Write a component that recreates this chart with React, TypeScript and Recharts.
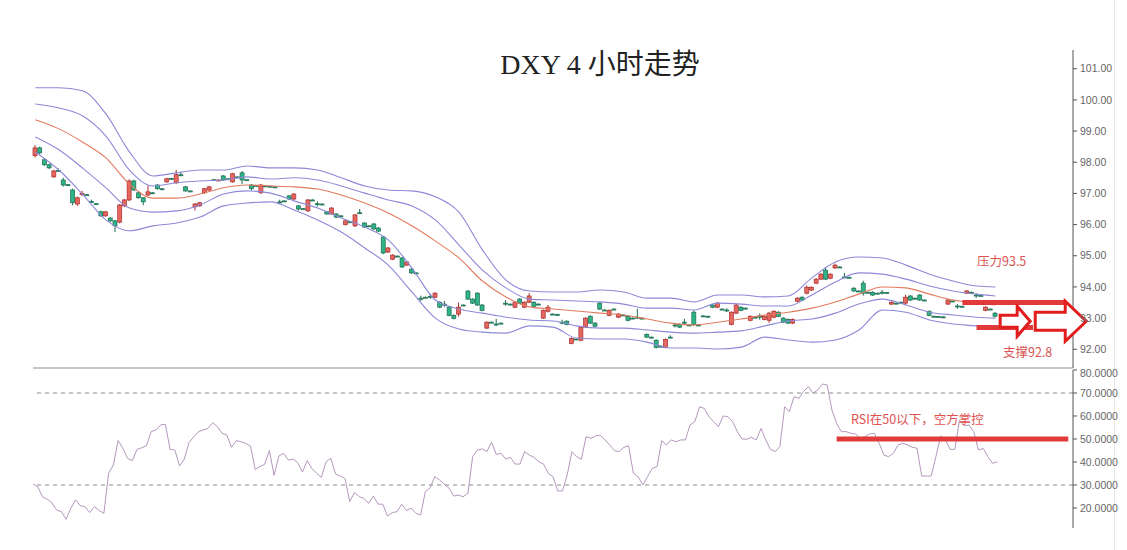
import React from "react";
import { ComposedChart, LineChart, Line, Bar, XAxis, YAxis, ReferenceLine, ReferenceDot } from "recharts";

// [open, high, low, close] for every 4h candle
const candles: [number, number, number, number][] = [
  [98.21, 98.55, 98.15, 98.46], [98.46, 98.5, 98.25, 98.3], [98.08, 98.12, 97.88, 97.92], [97.92, 97.95, 97.78, 97.82],
  [97.53, 97.76, 97.5, 97.72], [97.74, 97.8, 97.7, 97.72], [97.43, 97.5, 97.22, 97.27], [97.28, 97.3, 97.24, 97.26],
  [97.11, 97.15, 96.62, 96.7], [96.66, 96.9, 96.6, 96.86], [96.99, 97.08, 96.92, 97.0], [96.96, 96.98, 96.93, 96.95],
  [96.74, 96.8, 96.7, 96.73], [96.67, 96.69, 96.64, 96.66], [96.41, 96.45, 96.25, 96.28], [96.28, 96.44, 96.25, 96.41],
  [96.21, 96.24, 96.08, 96.12], [96.12, 96.15, 95.76, 95.96], [96.08, 96.66, 96.04, 96.63], [96.6, 96.82, 96.56, 96.79],
  [96.79, 97.45, 96.75, 97.4], [97.4, 97.44, 97.08, 97.11], [97.02, 97.05, 96.83, 96.86], [96.86, 96.88, 96.62, 96.73],
  [96.95, 97.25, 96.92, 97.05], [97.02, 97.04, 96.99, 97.01], [97.27, 97.3, 97.12, 97.15], [97.15, 97.16, 97.1, 97.14],
  [97.37, 97.5, 97.34, 97.47], [97.48, 97.5, 97.45, 97.47], [97.34, 97.75, 97.31, 97.6], [97.6, 97.7, 97.55, 97.59],
  [97.21, 97.24, 97.05, 97.08], [97.08, 97.09, 97.05, 97.07], [96.57, 96.69, 96.45, 96.66], [96.6, 96.73, 96.57, 96.7],
  [97.02, 97.18, 96.99, 97.15], [97.11, 97.24, 97.08, 97.21], [97.44, 97.46, 97.41, 97.43], [97.42, 97.45, 97.4, 97.43],
  [97.56, 97.59, 97.4, 97.43], [97.47, 97.48, 97.44, 97.46], [97.37, 97.66, 97.34, 97.63], [97.53, 97.55, 97.5, 97.52],
  [97.66, 97.72, 97.3, 97.43], [97.44, 97.45, 97.41, 97.43], [97.27, 97.3, 97.1, 97.15], [97.25, 97.27, 97.22, 97.24],
  [97.02, 97.3, 96.98, 97.27], [97.24, 97.26, 97.21, 97.23], [97.23, 97.25, 97.2, 97.22], [97.21, 97.23, 97.18, 97.2],
  [96.73, 96.8, 96.66, 96.72], [96.76, 96.78, 96.73, 96.75], [96.92, 96.95, 96.79, 96.82], [96.82, 97.01, 96.79, 96.98],
  [96.6, 96.63, 96.45, 96.5], [96.51, 96.53, 96.48, 96.5], [96.44, 96.82, 96.4, 96.79], [96.79, 96.81, 96.76, 96.78],
  [96.67, 96.75, 96.58, 96.66], [96.66, 96.68, 96.63, 96.65], [96.41, 96.44, 96.32, 96.34], [96.34, 96.56, 96.31, 96.53],
  [96.34, 96.37, 96.21, 96.24], [96.28, 96.3, 96.25, 96.27], [96.0, 96.15, 95.97, 96.12], [96.09, 96.11, 96.06, 96.08],
  [95.96, 96.34, 95.92, 96.31], [96.38, 96.5, 96.34, 96.37], [96.05, 96.08, 95.89, 95.92], [95.96, 95.98, 95.93, 95.95],
  [96.02, 96.05, 95.83, 95.86], [95.89, 95.92, 95.76, 95.79], [95.6, 95.63, 95.05, 95.09], [95.12, 95.28, 95.09, 95.25],
  [94.89, 95.05, 94.86, 95.02], [94.99, 95.01, 94.96, 94.98], [94.93, 94.96, 94.61, 94.64], [94.7, 94.83, 94.67, 94.8],
  [94.57, 94.6, 94.42, 94.45], [94.45, 94.47, 94.42, 94.44], [93.64, 93.72, 93.55, 93.63], [93.67, 93.69, 93.64, 93.66],
  [93.7, 93.78, 93.62, 93.69], [93.67, 93.83, 93.64, 93.8], [93.51, 93.54, 93.32, 93.35], [93.45, 93.55, 93.35, 93.44],
  [93.35, 93.38, 93.06, 93.09], [93.09, 93.12, 92.96, 92.99], [93.13, 93.5, 93.05, 93.35], [93.42, 93.44, 93.39, 93.41],
  [93.87, 93.9, 93.58, 93.61], [93.61, 93.64, 93.45, 93.48], [93.8, 93.83, 93.39, 93.42], [93.42, 93.45, 93.22, 93.25],
  [92.68, 92.9, 92.65, 92.87], [92.87, 92.89, 92.84, 92.86], [92.81, 92.98, 92.75, 92.8], [92.84, 92.86, 92.81, 92.83],
  [93.48, 93.58, 93.4, 93.47], [93.45, 93.47, 93.42, 93.44], [93.35, 93.54, 93.32, 93.51], [93.61, 93.64, 93.45, 93.48],
  [93.35, 93.54, 93.32, 93.51], [93.51, 93.8, 93.48, 93.71], [93.51, 93.54, 93.35, 93.38], [93.45, 93.47, 93.42, 93.44],
  [93.0, 93.28, 92.97, 93.25], [93.22, 93.42, 93.18, 93.35], [93.13, 93.15, 93.1, 93.12], [93.12, 93.14, 93.09, 93.11],
  [92.87, 92.95, 92.8, 92.86], [92.9, 92.93, 92.77, 92.8], [92.19, 92.38, 92.16, 92.35], [92.33, 92.35, 92.3, 92.32],
  [92.29, 92.74, 92.26, 92.71], [92.71, 93.03, 92.68, 93.0], [93.06, 93.09, 92.81, 92.84], [92.84, 92.87, 92.71, 92.74],
  [93.48, 93.51, 93.26, 93.29], [93.26, 93.28, 93.23, 93.25], [93.09, 93.28, 93.06, 93.25], [93.29, 93.31, 93.26, 93.28],
  [93.03, 93.16, 93.0, 93.13], [93.1, 93.12, 93.07, 93.09], [93.06, 93.09, 92.9, 92.93], [93.0, 93.02, 92.97, 92.99],
  [93.03, 93.3, 92.98, 93.02], [93.0, 93.02, 92.97, 92.99], [92.48, 92.51, 92.36, 92.39], [92.39, 92.41, 92.36, 92.38],
  [92.29, 92.32, 92.03, 92.06], [92.1, 92.12, 92.07, 92.09], [92.06, 92.35, 92.03, 92.32], [92.39, 92.45, 92.36, 92.38],
  [92.78, 92.85, 92.7, 92.77], [92.8, 92.83, 92.68, 92.71], [92.87, 92.98, 92.8, 92.86], [92.78, 92.8, 92.75, 92.77],
  [93.19, 93.25, 92.76, 92.8], [92.78, 92.8, 92.75, 92.77], [93.07, 93.09, 93.04, 93.06], [93.06, 93.08, 93.03, 93.05],
  [93.42, 93.45, 93.32, 93.35], [93.35, 93.51, 93.32, 93.48], [93.29, 93.31, 93.26, 93.28], [93.26, 93.32, 93.2, 93.25],
  [92.8, 93.22, 92.77, 93.19], [93.16, 93.45, 93.13, 93.42], [93.35, 93.38, 93.22, 93.25], [93.32, 93.34, 93.29, 93.31],
  [92.93, 93.09, 92.9, 93.06], [93.03, 93.05, 93.0, 93.02], [93.06, 93.15, 92.95, 93.05], [92.96, 93.09, 92.93, 93.06],
  [92.93, 93.2, 92.85, 93.16], [93.03, 93.25, 93.0, 93.22], [93.19, 93.22, 93.03, 93.06], [93.0, 93.03, 92.84, 92.87],
  [92.96, 92.99, 92.81, 92.84], [92.84, 92.99, 92.81, 92.96], [93.54, 93.67, 93.51, 93.64], [93.67, 93.7, 93.55, 93.58],
  [93.8, 94.05, 93.76, 93.99], [93.9, 94.02, 93.87, 93.99], [94.12, 94.28, 94.09, 94.25], [94.25, 94.44, 94.22, 94.41],
  [94.54, 94.62, 94.22, 94.25], [94.28, 94.44, 94.25, 94.41], [94.61, 94.75, 94.58, 94.7], [94.64, 94.66, 94.61, 94.63],
  [94.32, 94.45, 94.28, 94.31], [94.31, 94.33, 94.28, 94.3], [93.96, 93.99, 93.84, 93.87], [93.87, 93.89, 93.84, 93.86],
  [94.12, 94.2, 93.72, 93.8], [93.83, 93.85, 93.8, 93.82], [93.83, 93.86, 93.71, 93.74], [93.8, 93.82, 93.77, 93.79],
  [93.83, 93.9, 93.76, 93.82], [93.82, 93.84, 93.79, 93.81], [93.45, 93.54, 93.42, 93.51], [93.48, 93.5, 93.45, 93.47],
  [93.51, 93.53, 93.48, 93.5], [93.48, 93.75, 93.42, 93.67], [93.71, 93.74, 93.55, 93.58], [93.64, 93.66, 93.61, 93.63],
  [93.74, 93.77, 93.55, 93.58], [93.58, 93.6, 93.55, 93.57], [93.22, 93.25, 93.06, 93.09], [93.06, 93.08, 93.03, 93.05],
  [93.05, 93.07, 93.02, 93.04], [93.04, 93.06, 93.01, 93.03], [93.45, 93.61, 93.42, 93.58], [93.55, 93.57, 93.52, 93.54],
  [93.39, 93.45, 93.3, 93.38], [93.38, 93.4, 93.35, 93.37], [93.8, 93.9, 93.77, 93.87], [93.83, 93.85, 93.8, 93.82],
  [93.74, 93.8, 93.65, 93.73], [93.73, 93.75, 93.7, 93.72], [93.25, 93.38, 93.22, 93.35], [93.29, 93.31, 93.26, 93.28],
  [93.16, 93.19, 93.03, 93.06],
];

// band lines, one reading every 5 candles (last one on the last candle)
const upperOuter = [
  100.39, 100.39, 100.29, 99.55, 98.33, 97.56, 97.66, 97.75, 97.75, 97.88,
  97.82, 97.82, 97.75, 97.5, 97.24, 97.11, 97.08, 96.89, 96.4, 95.19,
  94.22, 93.87, 93.84, 93.84, 93.9, 93.84, 93.64, 93.64, 93.52, 93.74,
  93.74, 93.68, 93.71, 94.29, 94.8, 94.96, 94.93, 94.7, 94.41, 94.19,
  94.03, 94.0,
];
const upperInner = [
  99.87, 99.74, 99.49, 98.84, 97.75, 97.24, 97.34, 97.4, 97.43, 97.53,
  97.46, 97.5, 97.43, 97.24, 97.01, 96.79, 96.6, 96.15, 95.35, 94.54,
  93.97, 93.61, 93.58, 93.55, 93.52, 93.45, 93.32, 93.32, 93.26, 93.48,
  93.45, 93.39, 93.39, 93.74, 94.16, 94.45, 94.41, 94.25, 94.03, 93.87,
  93.77, 93.71,
];
const middle = [
  99.36, 99.07, 98.65, 98.14, 97.3, 96.85, 96.85, 96.98, 97.18, 97.27,
  97.24, 97.21, 97.14, 96.95, 96.69, 96.37, 95.96, 95.47, 94.93, 94.19,
  93.68, 93.36, 93.29, 93.23, 93.16, 93.1, 92.97, 92.84, 92.78, 92.87,
  92.97, 93.1, 93.19, 93.32, 93.52, 93.77, 94.0, 93.97, 93.77, 93.58,
  93.48, 93.42,
];
const lowerInner = [
  98.81, 98.4, 97.82, 97.18, 96.53, 96.4, 96.44, 96.63, 96.98, 97.08,
  97.01, 96.76, 96.53, 96.21, 95.92, 95.51, 94.61, 93.58, 93.29, 93.16,
  93.03, 92.94, 92.91, 92.75, 92.68, 92.68, 92.62, 92.55, 92.52, 92.55,
  92.59, 92.75, 92.91, 92.97, 93.16, 93.45, 93.61, 93.42, 93.19, 93.1,
  93.03, 93.0,
];
const lowerOuter = [
  98.33, 97.75, 96.98, 96.15, 95.8, 95.96, 96.05, 96.24, 96.6, 96.69,
  96.73, 96.47, 96.15, 95.76, 95.25, 94.7, 93.84, 93.0, 92.65, 92.55,
  92.52, 92.75, 92.71, 92.36, 92.33, 92.33, 92.23, 92.04, 92.04, 92.01,
  92.07, 92.39, 92.3, 92.23, 92.3, 92.62, 93.26, 93.19, 92.94, 92.81,
  92.75, 92.68,
];

const rsi = [
  30.4, 29.3, 24.9, 23.8, 22.3, 19.1, 18.4, 15.1, 19.9, 23.5,
  21.0, 20.6, 18.0, 20.6, 18.9, 17.7, 35.1, 38.7, 49.3, 46.0,
  41.6, 40.6, 45.5, 46.2, 47.1, 53.2, 53.9, 56.1, 56.4, 45.5,
  45.2, 38.3, 41.2, 48.4, 51.0, 53.2, 53.9, 54.6, 57.1, 55.4,
  52.5, 51.7, 46.4, 49.3, 48.8, 48.1, 47.0, 36.8, 38.0, 39.0,
  45.0, 34.2, 42.6, 43.8, 40.9, 41.2, 39.7, 35.6, 40.6, 37.2,
  35.1, 33.3, 40.1, 41.6, 34.8, 33.9, 32.8, 22.8, 26.7, 24.9,
  24.2, 22.0, 25.2, 21.7, 21.6, 16.5, 18.0, 18.4, 21.6, 18.9,
  19.9, 17.7, 17.0, 27.1, 28.8, 33.6, 32.2, 30.4, 28.6, 25.2,
  25.6, 24.9, 26.4, 42.3, 45.2, 45.7, 44.5, 48.6, 43.3, 43.8,
  41.3, 42.0, 39.1, 39.1,
  44.5, 43.0, 42.0, 40.1, 39.1, 35.1, 33.6, 27.4, 27.4, 34.3,
  44.5, 42.3, 41.2, 51.0, 50.3, 51.3, 51.7, 49.6, 47.4, 44.9,
  44.5, 46.4, 47.0, 35.1, 33.6, 30.0, 33.6, 37.2, 38.0, 49.3,
  47.4, 49.6, 48.8, 49.6, 49.6, 56.1, 57.5, 64.0, 63.3, 59.7,
  57.5, 55.4, 60.0, 59.7, 57.5, 53.2, 50.0, 49.9, 50.7, 49.6,
  54.6, 49.6, 45.5, 44.5, 46.7, 64.0, 61.9, 68.4, 67.7, 70.6,
  72.8, 69.9, 71.3, 73.9, 73.5, 62.6, 56.8, 53.2, 53.2, 52.5,
  52.2, 50.3, 51.0, 52.2, 52.5, 48.1, 43.0, 42.3, 43.8, 47.4,
  48.1, 47.4, 46.4, 46.0, 33.9, 33.9, 33.9, 42.3, 51.3, 49.6,
  45.5, 45.5, 58.2, 55.7, 56.1, 53.2, 45.2, 45.9, 42.3, 39.4,
  40.1,
];

const priceTicks = [92, 93, 94, 95, 96, 97, 98, 99, 100, 101];
const rsiTicks = [20, 30, 40, 50, 60, 70, 80];
const resistance = 93.5;
const support = 92.7;

const SLOTS = 221; // candles + empty room on the right for the arrows
const BAND_STEP = 5;

const rows: any[] = Array.from({ length: SLOTS }, (_, i) => ({ i }));
candles.forEach(([o, h, l, c], i) => Object.assign(rows[i], { o, h, l, c, range: [l, h] }));
const bandAt = (k: number) => Math.min(k * BAND_STEP, candles.length - 1);
upperOuter.forEach((v, k) => (rows[bandAt(k)].uu = v));
upperInner.forEach((v, k) => (rows[bandAt(k)].iu = v));
middle.forEach((v, k) => (rows[bandAt(k)].mid = v));
lowerInner.forEach((v, k) => (rows[bandAt(k)].il = v));
lowerOuter.forEach((v, k) => (rows[bandAt(k)].ol = v));
rsi.forEach((v, i) => (rows[i].rsi = v));

const BAND = "#8d89d8";
const MID = "#e27b5e";
const ANNOT = "#e03a3a";
const axisTick = { fontSize: 10.5, fill: "#666", fontFamily: "'Liberation Sans', Arial, sans-serif" };

function Candle(props: any) {
  const { x, y, width, height, payload } = props;
  if (!payload || payload.o == null) return null;
  const { o, h, l, c } = payload;
  const top = Math.min(y, y + height);
  const len = Math.abs(height);
  const k = h > l ? len / (h - l) : 0;
  const bodyTop = top + (h - Math.max(o, c)) * k;
  const bodyBot = top + (h - Math.min(o, c)) * k;
  const up = c >= o;
  const edge = up ? "#a82c2c" : "#1c6a4e";
  const cx = x + width / 2;
  return (
    <g>
      <line x1={cx} x2={cx} y1={top} y2={top + len} stroke={edge} strokeWidth={1} />
      <rect
        x={x}
        y={bodyTop}
        width={width}
        height={Math.max(1, bodyBot - bodyTop)}
        fill={up ? "#e6675f" : "#2fb487"}
        stroke={edge}
        strokeWidth={0.7}
      />
    </g>
  );
}

const arrow = (pts: number[][]) => (props: any) => {
  const { cx, cy } = props;
  return (
    <polygon
      points={pts.map(([dx, dy]) => `${cx + dx},${cy + dy}`).join(" ")}
      fill="#fff"
      stroke="#e21d1d"
      strokeWidth={3}
    />
  );
};

export default function App() {
  return (
    <div style={{ position: "absolute", left: 0, top: 0, width: 1127, height: 550, background: "#fff", overflow: "hidden" }}>
      <div style={{ position: "absolute", left: 1114, top: 0, width: 1, height: 550, background: "#e8e8e8" }} />

      <div style={{ position: "absolute", left: 0, top: 0 }}>
        <ComposedChart width={1127} height={372} data={rows} margin={{ top: 50, right: 0, bottom: 3, left: 33 }}>
          <XAxis dataKey="i" tick={false} tickLine={false} height={1} axisLine={{ stroke: "#8c8c8c" }} />
          <YAxis
            orientation="right"
            width={54}
            domain={[91.4, 101.6]}
            allowDataOverflow
            ticks={priceTicks}
            tickFormatter={(v: number) => v.toFixed(2)}
            tick={axisTick}
            tickSize={4}
            tickMargin={3}
            axisLine={{ stroke: "#555" }}
            tickLine={{ stroke: "#555" }}
          />
          <Line dataKey="uu" type="monotone" stroke={BAND} strokeWidth={1.1} dot={false} activeDot={false} connectNulls isAnimationActive={false} />
          <Line dataKey="iu" type="monotone" stroke={BAND} strokeWidth={1.1} dot={false} activeDot={false} connectNulls isAnimationActive={false} />
          <Line dataKey="mid" type="monotone" stroke={MID} strokeWidth={1.1} dot={false} activeDot={false} connectNulls isAnimationActive={false} />
          <Line dataKey="il" type="monotone" stroke={BAND} strokeWidth={1.1} dot={false} activeDot={false} connectNulls isAnimationActive={false} />
          <Line dataKey="ol" type="monotone" stroke={BAND} strokeWidth={1.1} dot={false} activeDot={false} connectNulls isAnimationActive={false} />
          <Bar dataKey="range" barSize={4} shape={<Candle />} isAnimationActive={false} />
          <ReferenceLine segment={[{ x: 197, y: resistance }, { x: 219, y: resistance }]} stroke={ANNOT} strokeWidth={5} />
          <ReferenceLine segment={[{ x: 200, y: support }, { x: 212, y: support }]} stroke={ANNOT} strokeWidth={5} />
          <ReferenceDot
            x={208}
            y={92.9}
            ifOverflow="visible"
            shape={arrow([[-14, -6], [3, -6], [3, -15], [16, 0], [3, 15], [3, 6], [-14, 6]])}
          />
          <ReferenceDot
            x={218}
            y={92.9}
            ifOverflow="visible"
            shape={arrow([[-26, -9], [4, -9], [4, -20], [25, 0], [4, 20], [4, 9], [-26, 9]])}
          />
        </ComposedChart>
      </div>

      <div style={{ position: "absolute", left: 0, top: 368 }}>
        <LineChart width={1127} height={182} data={rows} margin={{ top: 2, right: 0, bottom: 22, left: 33 }}>
          <XAxis dataKey="i" hide />
          <YAxis
            orientation="right"
            width={54}
            domain={[11.3, 80]}
            allowDataOverflow
            ticks={rsiTicks}
            tickFormatter={(v: number) => v.toFixed(4)}
            tick={axisTick}
            tickSize={4}
            tickMargin={3}
            axisLine={{ stroke: "#555" }}
            tickLine={{ stroke: "#555" }}
          />
          <ReferenceLine y={70} stroke="#8a8a8a" strokeDasharray="4 4" />
          <ReferenceLine y={30} stroke="#8a8a8a" strokeDasharray="4 4" />
          <Line dataKey="rsi" type="linear" stroke="#b497bd" strokeWidth={1} dot={false} activeDot={false} isAnimationActive={false} />
          <ReferenceLine segment={[{ x: 170, y: 50 }, { x: 219, y: 50 }]} stroke={ANNOT} strokeWidth={5} />
        </LineChart>
      </div>

      <div
        style={{
          position: "absolute",
          left: 400,
          top: 50,
          width: 400,
          textAlign: "center",
          lineHeight: "30px",
          fontSize: 28,
          color: "#222",
          fontFamily: "'Liberation Serif', 'Noto Sans CJK SC', serif",
          whiteSpace: "pre",
        }}
      >
        {"DXY 4 小时走势"}
      </div>

      <div style={{ position: "absolute", left: 977, top: 253, fontSize: 12.5, color: "#d9534f", fontFamily: "'Noto Sans CJK SC', sans-serif", lineHeight: "16px" }}>
        压力93.5
      </div>
      <div style={{ position: "absolute", left: 1003, top: 344, fontSize: 12.5, color: "#d9534f", fontFamily: "'Noto Sans CJK SC', sans-serif", lineHeight: "16px" }}>
        支撑92.8
      </div>
      <div style={{ position: "absolute", left: 851, top: 411, fontSize: 12.5, color: "#e05252", fontFamily: "'Noto Sans CJK SC', sans-serif", lineHeight: "16px", whiteSpace: "pre" }}>
        RSI在50以下，空方掌控
      </div>
    </div>
  );
}
